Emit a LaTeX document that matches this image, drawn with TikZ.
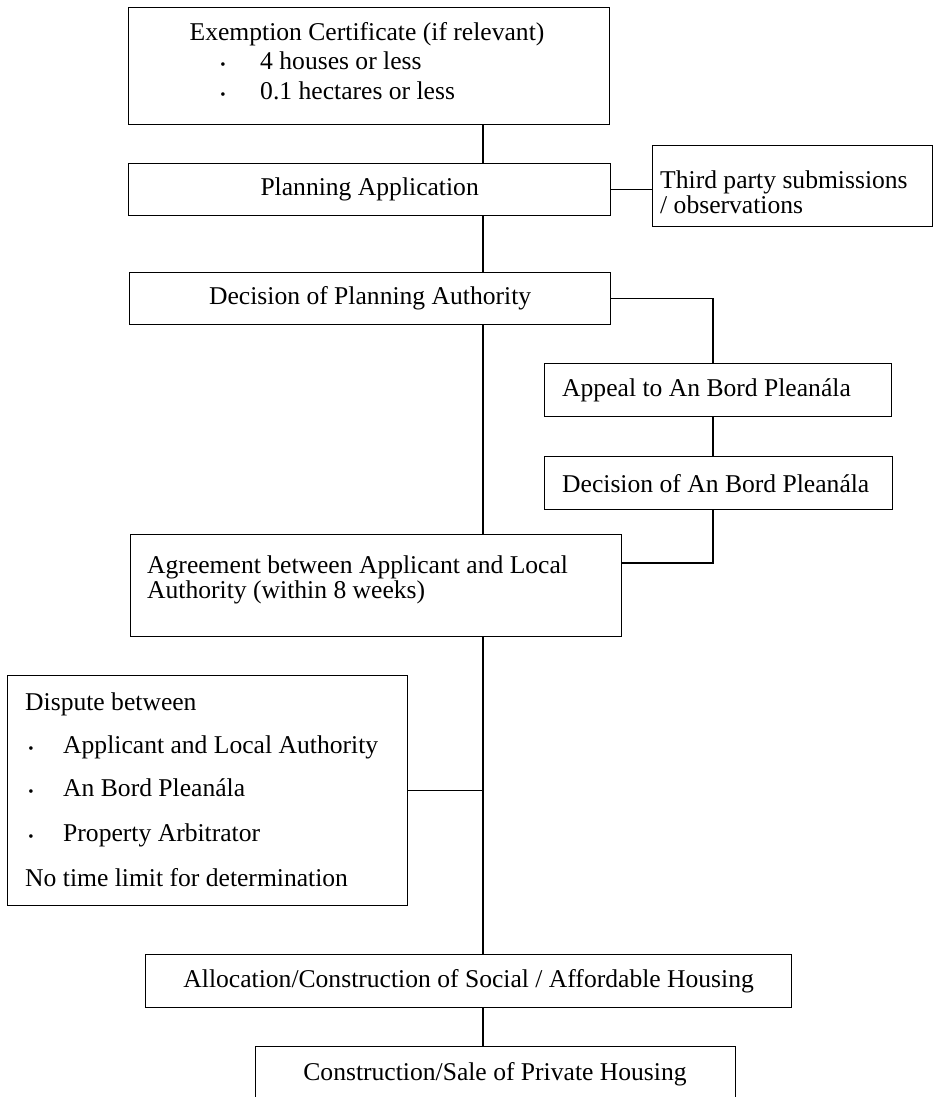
\documentclass[tikz,border=0pt]{standalone}
\usepackage{fontspec}
\setmainfont{Liberation Serif}
\begin{document}
\begin{tikzpicture}[x=1pt,y=-1pt,
  box/.style={draw, line width=1.3pt, inner sep=0pt, anchor=north west},
  txt/.style={inner sep=0pt, font=\fontsize{25.6}{30}\selectfont},
  bul/.style={inner sep=0pt, font=\fontsize{15}{15}\selectfont},
  ln/.style={line width=1.3pt}]
\useasboundingbox (0,0) rectangle (935,1097);
% boxes
\node[box, minimum width=481pt, minimum height=117pt] (b1) at (128,7) {};
\node[box, minimum width=482pt, minimum height=52pt] (b2) at (128,163) {};
\node[box, minimum width=280pt, minimum height=81pt] (b3) at (652,145) {};
\node[box, minimum width=481pt, minimum height=52pt] (b4) at (129,272) {};
\node[box, minimum width=347pt, minimum height=53pt] (b5) at (544,363) {};
\node[box, minimum width=348pt, minimum height=53pt] (b6) at (544,456) {};
\node[box, minimum width=491pt, minimum height=102pt] (b7) at (130,534) {};
\node[box, minimum width=400pt, minimum height=230pt] (b8) at (7,675) {};
\node[box, minimum width=646pt, minimum height=53pt] (b9) at (145,954) {};
\node[box, minimum width=480pt, minimum height=56pt] (b10) at (255,1046) {};
% texts
\node[txt, anchor=base] (t1) at (367,41) {Exemption Certificate (if relevant)};
\node[bul, anchor=base] (t1p) at (223,70) {•};
\node[txt, anchor=base west] (t1a) at (260,70) {4 houses or less};
\node[bul, anchor=base] (t1q) at (223,100) {•};
\node[txt, anchor=base west] (t1b) at (260,100) {0.1 hectares or less};
\node[txt] (t2) at (b2.center) {Planning Application};
\node[txt, anchor=base west] (t3a) at (660,188) {Third party submissions};
\node[txt, anchor=base west] (t3b) at (660,213) {/ observations};
\node[txt] (t4) at (b4.center) {Decision of Planning Authority};
\node[txt, anchor=west, xshift=18pt] (t5) at (b5.west) {Appeal to An Bord Pleanála};
\node[txt, anchor=west, xshift=18pt] (t6) at (b6.west) {Decision of An Bord Pleanála};
\node[txt, anchor=base west] (t7a) at (147,573) {Agreement between Applicant and Local};
\node[txt, anchor=base west] (t7b) at (147,598) {Authority (within 8 weeks)};
\node[txt, anchor=base west] (t8a) at (25,710) {Dispute between};
\node[bul, anchor=base] (t8p) at (31,753) {•};
\node[txt, anchor=base west] (t8b) at (63,753) {Applicant and Local Authority};
\node[bul, anchor=base] (t8q) at (31,796) {•};
\node[txt, anchor=base west] (t8c) at (63,796) {An Bord Pleanála};
\node[bul, anchor=base] (t8r) at (31,841) {•};
\node[txt, anchor=base west] (t8d) at (63,841) {Property Arbitrator};
\node[txt, anchor=base west] (t8e) at (25,886) {No time limit for determination};
\node[txt] (t9) at (b9.center) {Allocation/Construction of Social / Affordable Housing};
\node[txt, anchor=base] (t10) at (495,1080) {Construction/Sale of Private Housing};
% connector helpers
\coordinate (trunk) at (483,0);
\coordinate (br) at (713,0);
\coordinate (j7) at (0,563);
% connectors
\draw[ln] (b1.south -| trunk) -- (b2.north -| trunk);
\draw[ln] (b2.east) -- (b2.east -| b3.west);
\draw[ln] (b2.south -| trunk) -- (b4.north -| trunk);
\draw[ln] (b4.east) -- (b4.east -| br) -- (b5.north -| br);
\draw[ln] (b5.south -| br) -- (b6.north -| br);
\draw[ln] (b6.south -| br) -- (br |- j7) -- (j7 -| b7.east);
\draw[ln] (b4.south -| trunk) -- (b7.north -| trunk);
\draw[ln] (b7.south -| trunk) -- (b9.north -| trunk);
\draw[ln] (b8.east) -- (b8.east -| trunk);
\draw[ln] (b9.south -| trunk) -- (b10.north -| trunk);
\end{tikzpicture}
\end{document}
